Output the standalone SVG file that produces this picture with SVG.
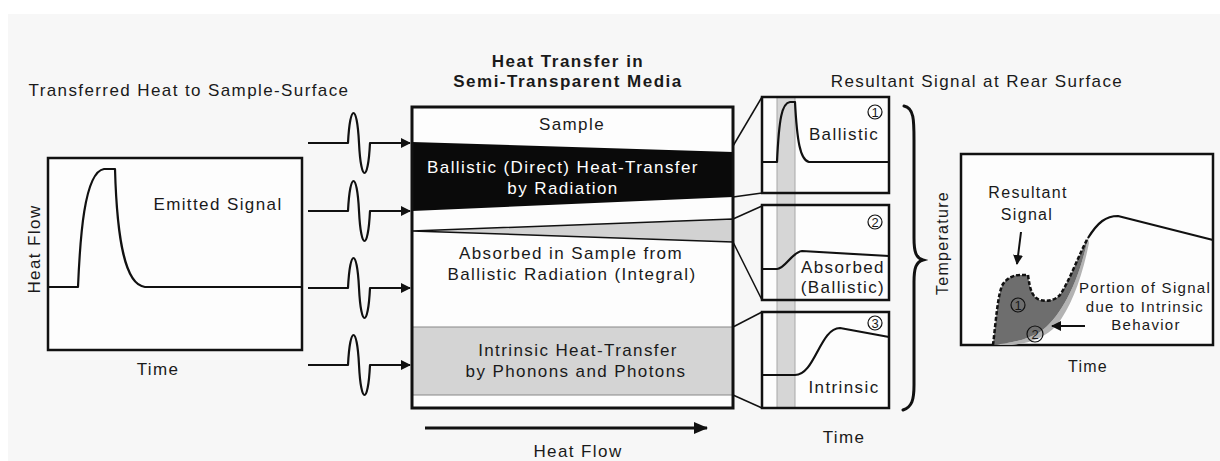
<svg xmlns="http://www.w3.org/2000/svg" width="1220" height="461" viewBox="0 0 1220 461">
<defs>
<style>
text{font-family:"Liberation Sans",Arial,sans-serif;fill:#1a1a1a;font-size:17px;letter-spacing:1.4px}
.c{text-anchor:middle}
.b{font-weight:bold;font-size:17px;letter-spacing:1.5px}
.s{font-size:15px;letter-spacing:1.3px}
.w{fill:#ffffff}
.ln{fill:none;stroke:#111;stroke-width:2.2;stroke-linejoin:round}
.box{fill:#fdfdfd;stroke:#111;stroke-width:2.5}
.thin{fill:none;stroke:#111;stroke-width:1.5}
.num{font-size:13px;letter-spacing:0;text-anchor:middle}
</style>
<marker id="ah" markerWidth="10" markerHeight="10" refX="9" refY="5" orient="auto" markerUnits="userSpaceOnUse">
<path d="M0,0 L10,5 L0,10 Z" fill="#111"/>
</marker>
<marker id="ah2" markerWidth="14" markerHeight="12" refX="13" refY="6" orient="auto" markerUnits="userSpaceOnUse">
<path d="M0,0 L14,6 L0,12 Z" fill="#111"/>
</marker>
</defs>
<rect x="0" y="0" width="1220" height="461" fill="#ffffff"/>
<rect x="8" y="14" width="1212" height="447" fill="#f7f7f7"/>

<g id="emitted-chart">
<text x="189" y="96" class="c">Transferred Heat to Sample-Surface</text>
<rect x="48" y="158" width="254" height="192" class="box"/>
<path class="ln" d="M48,287 H78 C80,240 84,172 104,169 H115 C117,240 125,285 145,287 H302"/>
<text x="218" y="210" class="c">Emitted Signal</text>
<text transform="translate(40,249) rotate(-90)" class="c">Heat Flow</text>
<text x="158" y="375" class="c">Time</text>
</g>

<g id="connectors">
<path class="ln" d="M308,143 H348 C350,103 357,103 359,143 C361,183 368,183 370,143 H410" marker-end="url(#ah)"/>
<path class="ln" d="M308,211 H348 C350,171 357,171 359,211 C361,251 368,251 370,211 H410" marker-end="url(#ah)"/>
<path class="ln" d="M308,288 H348 C350,248 357,248 359,288 C361,328 368,328 370,288 H410" marker-end="url(#ah)"/>
<path class="ln" d="M308,365 H348 C350,325 357,325 359,365 C361,405 368,405 370,365 H410" marker-end="url(#ah)"/>
<line x1="733" y1="146" x2="762" y2="97" class="thin"/>
<line x1="733" y1="197" x2="762" y2="193" class="thin"/>
<line x1="733" y1="219" x2="762" y2="206" class="thin"/>
<line x1="733" y1="242" x2="762" y2="300" class="thin"/>
<line x1="733" y1="327" x2="762" y2="312" class="thin"/>
<line x1="733" y1="395" x2="762" y2="408" class="thin"/>
<line x1="425" y1="428" x2="707" y2="428" stroke="#111" stroke-width="3" marker-end="url(#ah2)"/>
</g>

<g id="media-box">
<text x="568" y="67" class="c b">Heat Transfer in</text>
<text x="568" y="87" class="c b">Semi-Transparent Media</text>
<rect x="412" y="107" width="321" height="301" fill="#fdfdfd"/>
<polygon points="412,142 733,152 733,197 412,211" fill="#0a0a0a"/>
<polygon points="412,231 733,219 733,242" fill="#d2d2d2" stroke="#111" stroke-width="1.5" stroke-linejoin="round"/>
<rect x="412" y="327" width="321" height="68" fill="#d4d4d4" stroke="#888" stroke-width="1"/>
<rect x="412" y="107" width="321" height="301" fill="none" stroke="#111" stroke-width="3"/>
<text x="572" y="130" class="c">Sample</text>
<text x="563" y="173" class="c w">Ballistic (Direct) Heat-Transfer</text>
<text x="563" y="194" class="c w">by Radiation</text>
<text x="571" y="259" class="c">Absorbed in Sample from</text>
<text x="572" y="280" class="c">Ballistic Radiation (Integral)</text>
<text x="578" y="356" class="c">Intrinsic Heat-Transfer</text>
<text x="576" y="377" class="c">by Phonons and Photons</text>
<text x="578" y="457" class="c">Heat Flow</text>
</g>

<g id="panels">
<rect x="762" y="97" width="127" height="96" fill="#fdfdfd"/>
<rect x="762" y="205" width="127" height="95" fill="#fdfdfd"/>
<rect x="762" y="312" width="127" height="96" fill="#fdfdfd"/>
<rect x="777" y="97" width="18" height="311" fill="#d6d6d6" stroke="#a8a8a8" stroke-width="1"/>
</g>

<g id="panel-ballistic">
<rect x="762" y="97" width="127" height="96" class="box" style="fill:none"/>
<path class="ln" d="M762,162 H777 C779,118 782,103 790,102 H795 C797,140 800,160 809,162 H889"/>
<circle cx="875" cy="112" r="7" fill="none" stroke="#111" stroke-width="1.2"/>
<text x="875" y="117" class="num">1</text>
<text x="844" y="140" class="c">Ballistic</text>
</g>

<g id="panel-absorbed">
<rect x="762" y="205" width="127" height="95" class="box" style="fill:none"/>
<path class="ln" d="M762,269 H777 C785,269 792,252 802,251 L889,256"/>
<circle cx="875" cy="222" r="7" fill="none" stroke="#111" stroke-width="1.2"/>
<text x="875" y="227" class="num">2</text>
<text x="843" y="273" class="c">Absorbed</text>
<text x="843" y="293" class="c">(Ballistic)</text>
</g>

<g id="panel-intrinsic">
<rect x="762" y="312" width="127" height="96" class="box" style="fill:none"/>
<path class="ln" d="M762,375 H795 C815,375 820,328 840,328 L889,337"/>
<circle cx="875" cy="323" r="7" fill="none" stroke="#111" stroke-width="1.2"/>
<text x="875" y="328" class="num">3</text>
<text x="844" y="393" class="c">Intrinsic</text>
<text x="844" y="443" class="c">Time</text>
</g>

<g id="brace">
<path d="M904,106 C914,108 914,120 914,140 L914,238 C914,252 916,258 923,260 C916,262 914,268 914,282 L914,385 C914,400 912,407 903,410" fill="none" stroke="#111" stroke-width="3" stroke-linecap="round"/>
<text transform="translate(948,243) rotate(-90)" class="c s" style="font-size:16px">Temperature</text>
</g>

<g id="resultant-chart">
<text x="977" y="87" class="c">Resultant Signal at Rear Surface</text>
<rect x="961" y="154" width="252" height="191" class="box"/>
<path d="M1088,238 C1078,285 1060,318 1040,332 C1025,341 1005,344 993,345 L1012,345 C1030,343 1045,338 1057,325 C1071,307 1082,278 1089,243 Z" fill="#b3b3b3"/>
<path d="M993,345 C996,320 998,292 1003,284 C1008,277 1015,275 1020,275 L1028,275 C1030,290 1032,297 1040,300 C1048,302 1055,300 1060,295 C1070,280 1080,252 1088,238 C1078,285 1060,318 1040,332 C1025,341 1005,344 993,345 Z" fill="#6e6e6e"/>
<path d="M993,345 C996,320 998,292 1003,284 C1008,277 1015,275 1020,275 L1028,275 C1030,290 1032,297 1040,300 C1048,302 1055,300 1060,295 C1070,280 1080,252 1088,238" fill="none" stroke="#111" stroke-width="2.5" stroke-dasharray="4,2"/>
<path class="ln" d="M1088,238 C1098,222 1106,216 1118,216 L1213,240"/>
<circle cx="1018" cy="305" r="7" fill="none" stroke="#111" stroke-width="1.2"/>
<text x="1018" y="310" class="num">1</text>
<circle cx="1035" cy="334" r="8" fill="none" stroke="#111" stroke-width="1.2"/>
<text x="1035" y="339" class="num">2</text>
<text x="1028" y="198" class="c s" style="font-size:16px">Resultant</text>
<text x="1027" y="220" class="c s" style="font-size:16px">Signal</text>
<line x1="1021" y1="232" x2="1017" y2="264" stroke="#111" stroke-width="2" marker-end="url(#ah)"/>
<text x="1145" y="293" class="c s">Portion of Signal</text>
<text x="1145" y="312" class="c s">due to Intrinsic</text>
<text x="1146" y="330" class="c s">Behavior</text>
<line x1="1085" y1="326" x2="1052" y2="326" stroke="#111" stroke-width="2" marker-end="url(#ah)"/>
<text x="1088" y="372" class="c s" style="font-size:16px">Time</text>
</g>
</svg>
